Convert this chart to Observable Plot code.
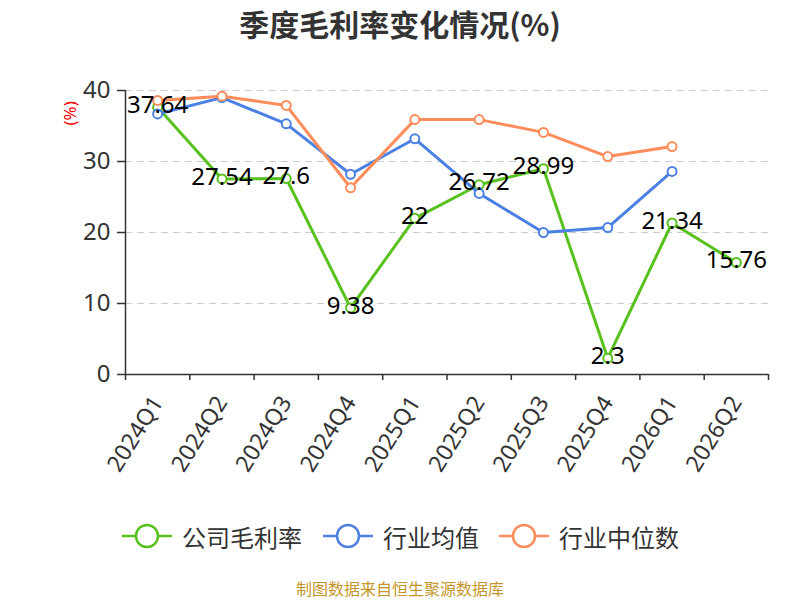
<!DOCTYPE html>
<html>
<head>
<meta charset="utf-8">
<script src="https://cdn.jsdelivr.net/npm/d3@7"></script>
<script src="https://cdn.jsdelivr.net/npm/@observablehq/plot@0.6"></script>
<style>
  body { margin: 0; background: #fff; font-family: "Noto Sans", "Noto Sans CJK SC", sans-serif; }
  #wrap { position: relative; width: 800px; height: 600px; overflow: hidden; }
  #title { position: absolute; top: 1px; left: 0; width: 800px; text-align: center; font-size: 30px; font-weight: bold; color: #333; font-family: "Noto Sans CJK SC", sans-serif; }
  #chart { position: absolute; top: 0; left: 0; }
  .leg { position: absolute; top: 521px; height: 30px; display: flex; align-items: center; font-size: 24px; color: #333; font-family: "Noto Sans CJK SC", sans-serif; }
  .leg svg { margin-right: 10px; }
  #caption { position: absolute; top: 576px; left: 0; width: 800px; text-align: center; font-size: 16px; color: #c4962a; font-family: "Noto Sans CJK SC", sans-serif; }
</style>
</head>
<body>
<div id="wrap">
  <div id="title">季度毛利率变化情况(%)</div>
  <div id="chart"></div>
  <div id="legend"></div>
  <div id="caption">制图数据来自恒生聚源数据库</div>
</div>
<script>
const quarters = ["2024Q1","2024Q2","2024Q3","2024Q4","2025Q1","2025Q2","2025Q3","2025Q4","2026Q1","2026Q2"];
const companyMargin = [37.64, 27.54, 27.6, 9.38, 22, 26.72, 28.99, 2.3, 21.34, 15.76];
const industryMean = [36.7, 39.0, 35.3, 28.2, 33.2, 25.5, 20.0, 20.7, 28.6];
const industryMedian = [38.6, 39.2, 37.9, 26.3, 35.9, 35.9, 34.1, 30.7, 32.1];
const yTicks = [0, 10, 20, 30, 40];
const seriesNames = ["公司毛利率", "行业均值", "行业中位数"];
const seriesColors = ["#58c11d", "#4c80e3", "#ff8c5a"];

const toRows = (vals) => vals.map((v, i) => ({q: quarters[i], v}));
const green = toRows(companyMargin);
const blue = toRows(industryMean);
const orange = toRows(industryMedian);

const W = 800, H = 500, mL = 125, mR = 32, mT = 90, mB = 126;
const bw = (W - mL - mR) / quarters.length;
const font = '"Noto Sans", "Noto Sans CJK SC", sans-serif';

const seriesMarks = (rows, color) => [
  Plot.lineY(rows, {x: "q", y: "v", stroke: color, strokeWidth: 3}),
  Plot.dot(rows, {x: "q", y: "v", r: 4.5, fill: "white", stroke: color, strokeWidth: 2})
];

const chart = Plot.plot({
  width: W, height: H,
  marginLeft: mL, marginRight: mR, marginTop: mT, marginBottom: mB,
  style: {fontFamily: font, color: "#333", background: "transparent"},
  x: {type: "band", domain: quarters, padding: 0, round: false, label: null},
  y: {domain: [0, 40], label: null},
  marks: [
    Plot.ruleY(yTicks.filter(d => d > 0), {stroke: "#ccc", strokeWidth: 1.2, strokeDasharray: "7,5"}),
    Plot.ruleY([0], {stroke: "#333", strokeWidth: 1.5}),
    Plot.ruleX([quarters[0]], {y1: 0, y2: 40, dx: -bw / 2, stroke: "#333", strokeWidth: 1.5}),
    Plot.axisX({tickSize: 6, tickFormat: () => "", dx: -bw / 2, stroke: "#333", strokeWidth: 1.5}),
    Plot.axisX({ticks: [quarters[quarters.length - 1]], tickSize: 6, tickFormat: () => "", dx: bw / 2, stroke: "#333", strokeWidth: 1.5}),
    Plot.axisX({tickSize: 0, tickRotate: -58, tickPadding: 24, fontSize: 23, fill: "#333", label: null}),
    Plot.axisY({ticks: yTicks, tickSize: 8, tickPadding: 7, fontSize: 24, fill: "#333", stroke: "#333", strokeWidth: 1.5, label: null}),
    Plot.text(["(%)"], {frameAnchor: "top-left", dx: -62, dy: 35, rotate: -90, fill: "red", fontSize: 17, text: d => d}),
    ...seriesMarks(green, seriesColors[0]),
    ...seriesMarks(blue, seriesColors[1]),
    ...seriesMarks(orange, seriesColors[2]),
    Plot.text(green, {x: "q", y: "v", text: d => String(d.v), fontSize: 24, fill: "black", dy: -2})
  ]
});
document.getElementById("chart").appendChild(chart);

// legend
const legendLeft = [122, 323, 499];
const legend = document.getElementById("legend");
seriesNames.forEach((name, i) => {
  const item = document.createElement("div");
  item.className = "leg";
  item.style.left = legendLeft[i] + "px";
  const c = seriesColors[i];
  item.innerHTML = `<svg width="50" height="30"><line x1="0" y1="15" x2="50" y2="15" stroke="${c}" stroke-width="2.5"/><circle cx="25" cy="15" r="11" fill="white" stroke="${c}" stroke-width="2.5"/></svg><span>${name}</span>`;
  legend.appendChild(item);
});
</script>
</body>
</html>
